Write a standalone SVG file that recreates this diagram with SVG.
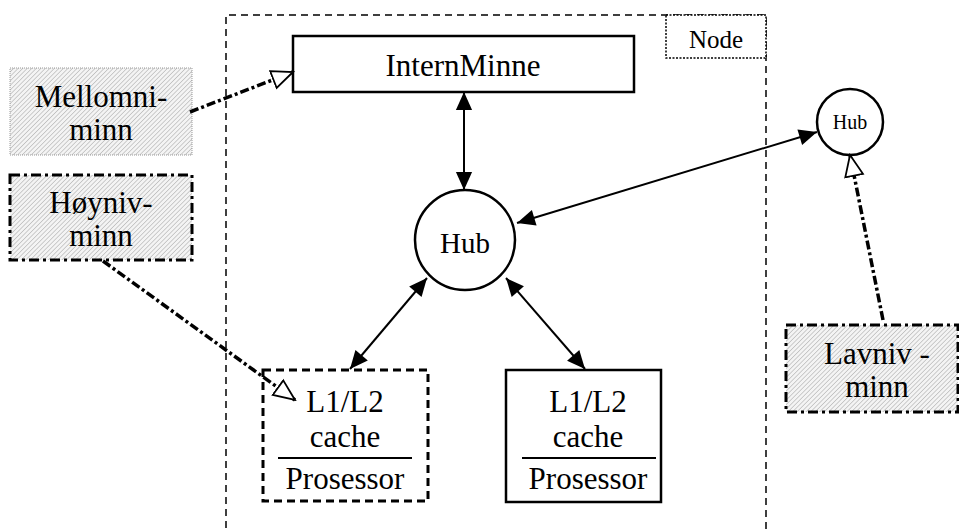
<svg xmlns="http://www.w3.org/2000/svg" width="959" height="532" viewBox="0 0 959 532">
<style>
text{font-family:"Liberation Serif","Times New Roman",Times,serif;fill:#000;text-anchor:middle}
.big{font-size:31px}
.box{fill:#fff;stroke:#000;stroke-width:2.5}
.hatch{fill:url(#hatch)}
.dd{fill:none;stroke:#000;stroke-width:3;stroke-dasharray:10 4 3 4}
.conn{fill:none;stroke:#000;stroke-width:2}
.ddconn{fill:none;stroke:#000;stroke-width:3.5;stroke-dasharray:9 3 3 3}
</style>
<defs>
<pattern id="hatch" width="3.2" height="3.2" patternUnits="userSpaceOnUse" patternTransform="rotate(45)">
<rect width="3.2" height="3.2" fill="#f4f4f4"/>
<line x1="0" y1="0" x2="0" y2="3.2" stroke="#b0b0b0" stroke-width="1.2"/>
</pattern>
<marker id="fa" viewBox="0 0 20 20" refX="20" refY="10" markerWidth="20" markerHeight="18" markerUnits="userSpaceOnUse" orient="auto-start-reverse">
<path d="M0,1 L20,10 L0,19 Z" fill="#000"/>
</marker>
<marker id="oa" viewBox="-1 -1 24 22" refX="21" refY="10" markerWidth="24" markerHeight="22" markerUnits="userSpaceOnUse" orient="auto">
<path d="M0,1 L21,10 L0,19 Z" fill="#fff" stroke="#000" stroke-width="1.8"/>
</marker>
</defs>
<rect width="959" height="532" fill="#fff"/>

<g id="node-frame">
<path d="M226,540 V15 H766 V540" fill="none" stroke="#000" stroke-width="1.5" stroke-dasharray="7 5"/>
</g>
<g id="node-label">
<rect x="666" y="15" width="100" height="43" fill="#fff" stroke="#000" stroke-width="1.5" stroke-dasharray="2 1.5"/>
<text x="716" y="48" style="font-size:25px">Node</text>
</g>

<g id="internminne">
<rect class="box" x="293" y="36" width="341" height="56"/>
<text class="big" x="463" y="76">InternMinne</text>
</g>

<g id="hub">
<circle cx="465" cy="240" r="50" class="box"/>
<text x="465" y="253" style="font-size:29px">Hub</text>
</g>

<g id="hub-small">
<circle cx="850" cy="122" r="33" class="box"/>
<text x="850" y="129" style="font-size:20px">Hub</text>
</g>

<g id="mellomminne">
<rect x="10" y="68" width="182" height="87" class="hatch" stroke="#999" stroke-width="1" stroke-dasharray="1 1"/>
<text class="big" x="101" y="107">Mellomni-</text>
<text class="big" x="101" y="140">minn</text>
</g>

<g id="hoynivminne">
<rect x="10" y="175" width="182" height="85" class="hatch"/>
<rect x="10" y="175" width="182" height="85" class="dd"/>
<text class="big" x="101" y="213">Høyniv-</text>
<text class="big" x="101" y="246">minn</text>
</g>

<g id="lavnivminne">
<rect x="786" y="325" width="172" height="87" class="hatch"/>
<rect x="786" y="325" width="172" height="87" class="dd"/>
<text class="big" x="877" y="364">Lavniv -</text>
<text class="big" x="877" y="397">minn</text>
</g>

<g id="prosessor1">
<rect x="263" y="370" width="165" height="131" fill="#fff" stroke="#000" stroke-width="3" stroke-dasharray="8 5"/>
<text class="big" x="345" y="412">L1/L2</text>
<text class="big" x="345" y="447">cache</text>
<line x1="278" y1="458" x2="412" y2="458" stroke="#000" stroke-width="2"/>
<text class="big" x="345" y="489">Prosessor</text>
</g>

<g id="prosessor2">
<rect class="box" x="506" y="370" width="155" height="132"/>
<text class="big" x="588" y="412">L1/L2</text>
<text class="big" x="588" y="447">cache</text>
<line x1="522" y1="458" x2="656" y2="458" stroke="#000" stroke-width="2"/>
<text class="big" x="588" y="489">Prosessor</text>
</g>

<g id="connectors">
<line class="conn" x1="464" y1="92" x2="464" y2="190" marker-start="url(#fa)" marker-end="url(#fa)"/>
<line class="conn" x1="427" y1="278" x2="350" y2="369" marker-start="url(#fa)" marker-end="url(#fa)"/>
<line class="conn" x1="506" y1="278" x2="585" y2="369" marker-start="url(#fa)" marker-end="url(#fa)"/>
<line class="conn" x1="517" y1="223" x2="817" y2="132" marker-start="url(#fa)" marker-end="url(#fa)"/>
<line class="ddconn" x1="190" y1="112" x2="293" y2="72" marker-end="url(#oa)"/>
<line class="ddconn" x1="103" y1="261" x2="295" y2="400" marker-end="url(#oa)"/>
<line class="ddconn" x1="883" y1="320" x2="850" y2="155" marker-end="url(#oa)"/>
</g>
</svg>
